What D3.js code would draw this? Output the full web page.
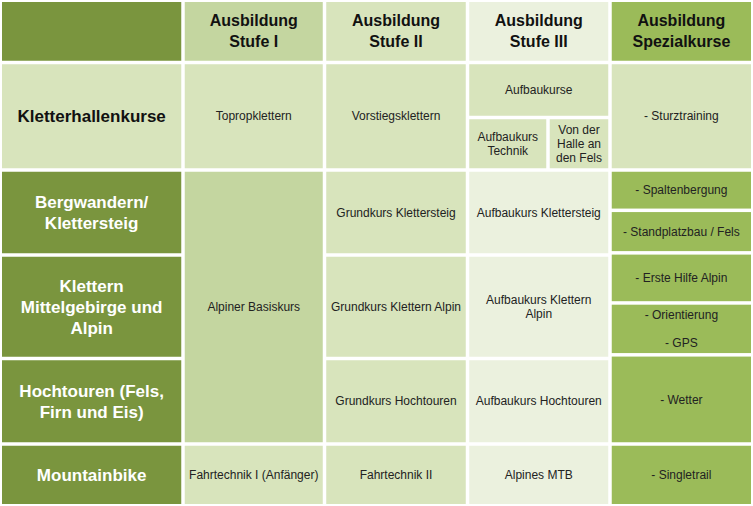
<!DOCTYPE html>
<html><head><meta charset="utf-8">
<script src="https://cdn.jsdelivr.net/npm/d3@7"></script>
<style>body{margin:0;background:#fff}svg{display:block}</style>
</head><body>
<script>
// Data
const columnHeaders = ["", "Ausbildung\nStufe I", "Ausbildung\nStufe II", "Ausbildung\nStufe III", "Ausbildung\nSpezialkurse"];
const rowHeaders = ["Kletterhallenkurse", "Bergwandern/\nKlettersteig", "Klettern\nMittelgebirge und\nAlpin", "Hochtouren (Fels,\nFirn und Eis)", "Mountainbike"];
// cells: [text, col0, col1, row0, row1, kind]  (grid units)
const cells = [
  ["Topropklettern", 1, 2, 1, 3, "c2"],
  ["Vorstiegsklettern", 2, 3, 1, 3, "c2"],
  ["Aufbaukurse", 3, 5, 1, 2, "c2"],
  ["Aufbaukurs\nTechnik", 3, 4, 2, 3, "c2"],
  ["Von der\nHalle an\nden Fels", 4, 5, 2, 3, "c2"],
  ["- Sturztraining", 5, 6, 1, 3, "c2"],
  ["Alpiner Basiskurs", 1, 2, 3, 9, "c1"],
  ["Grundkurs Klettersteig", 2, 3, 3, 5, "c2"],
  ["Grundkurs Klettern Alpin", 2, 3, 5, 7, "c2"],
  ["Grundkurs Hochtouren", 2, 3, 7, 9, "c2"],
  ["Aufbaukurs Klettersteig", 3, 5, 3, 5, "c3"],
  ["Aufbaukurs Klettern\nAlpin", 3, 5, 5, 7, "c3"],
  ["Aufbaukurs Hochtouren", 3, 5, 7, 9, "c3"],
  ["Fahrtechnik I (Anfänger)", 1, 2, 9, 10, "c2"],
  ["Fahrtechnik II", 2, 3, 9, 10, "c2"],
  ["Alpines MTB", 3, 5, 9, 10, "c3"],
  ["- Singletrail", 5, 6, 9, 10, "c4"]
];
const specialCells = [
  ["- Spaltenbergung", 3, 3.96],
  ["\n- Standplatzbau / Fels\n", 3.96, 4.95],
  ["- Erste Hilfe Alpin", 4.95, 5.94],
  ["- Orientierung\n\n- GPS", 5.94, 6.93],
  ["- Wetter", 6.93, 9]
];
const colors = {dark:"#7a953e", h1:"#c4d6a0", h2:"#d8e4bc", h3:"#ebf1de", h4:"#9bbb59", c1:"#c4d6a0", c2:"#d8e4bc", c3:"#ebf1de", c4:"#9bbb59"};

const W = 753, H = 506, gap = 3.5;
const x = d3.scaleLinear().domain([0,1,2,3,4,5,6]).range([2,183,324.5,467.5,548,610,751]);
const y = d3.scaleLinear().domain([0,1,2,3,4,5,6,7,8,9,10]).range([2,62.5,117.5,170,212,255,306,358.5,400,444,504]);

const svg = d3.select("body").append("svg").attr("width",W).attr("height",H);
const F = "'Liberation Sans', Arial, sans-serif";

function box(t, c0, c1, r0, r1, fill, size, weight, color, lh) {
  const x0 = x(c0) + (c0>0?gap/2:0), x1 = x(c1) - (c1<6?gap/2:0);
  const y0 = y(r0) + (r0>0?gap/2:0), y1 = y(r1) - (r1<10?gap/2:0);
  svg.append("rect").attr("x",x0).attr("y",y0).attr("width",x1-x0).attr("height",y1-y0).attr("fill",fill);
  const lines = t.split("\n");
  const cy = (y0+y1)/2, n = lines.length;
  const tx = svg.append("text").attr("font-family",F).attr("font-size",size).attr("font-weight",weight)
    .attr("fill",color).attr("text-anchor","middle");
  lines.forEach((l,i)=> tx.append("tspan").attr("x",(x0+x1)/2).attr("y",cy + (i-(n-1)/2)*lh).attr("dy","0.35em").text(l));
}

// header
const hFills = [colors.dark, colors.h1, colors.h2, colors.h3, colors.h4];
const hCols = [[0,1],[1,2],[2,3],[3,5],[5,6]];
columnHeaders.forEach((h,i)=> box(h, hCols[i][0], hCols[i][1], 0, 1, hFills[i], 16, "bold", "#111", 21));
// row headers
const rRows = [[1,3],[3,5],[5,7],[7,9],[9,10]];
rowHeaders.forEach((h,i)=> box(h, 0, 1, rRows[i][0], rRows[i][1], i==0?colors.c2:colors.dark, 17, "bold", i==0?"#111":"#fff", 21));
cells.forEach(c=> box(c[0], c[1], c[2], c[3], c[4], colors[c[5]], 12, "normal", "#222", c[0].includes("Halle")?14:14));
specialCells.forEach(c=> box(c[0], 5, 6, c[1], c[2], colors.c4, 12, "normal", "#222", 14));
</script>
</body></html>
